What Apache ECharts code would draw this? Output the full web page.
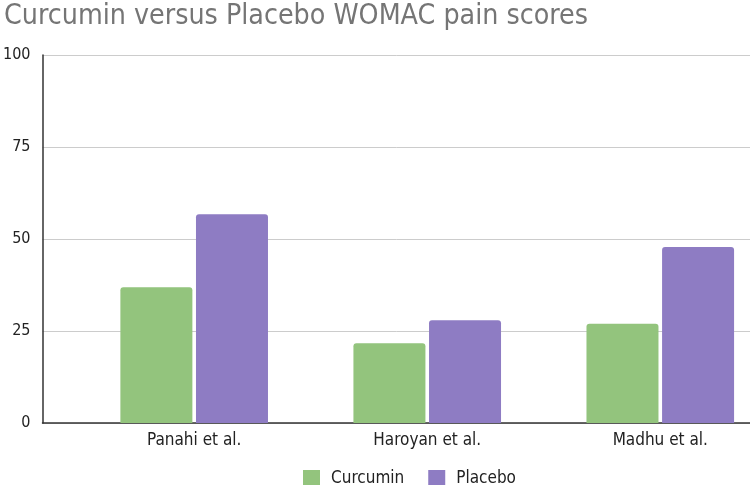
<!DOCTYPE html>
<html><head><meta charset="utf-8">
<script src="https://cdn.jsdelivr.net/npm/echarts@6/dist/echarts.min.js"></script>
<style>html,body{margin:0;padding:0;background:#fff}#c{width:750px;height:485px}</style>
</head><body><div id="c"></div>
<script>
const title = 'Curcumin versus Placebo WOMAC pain scores';
const categories = ['Panahi et al.', 'Haroyan et al.', 'Madhu et al.'];
const curcumin = [36.9, 21.7, 27.0];
const placebo = [56.7, 27.9, 47.8];
const yTicks = [0, 25, 50, 75, 100];

const FONT = '"DejaVu Sans Condensed", "DejaVu Sans", sans-serif';
const catIdx = categories.map((c, i) => i);
const chart = echarts.init(document.getElementById('c'));
chart.setOption({
  animation: false,
  textStyle: { fontFamily: FONT },
  title: { text: title, left: -1, top: -2, textStyle: { fontFamily: FONT, fontSize: 28.3, fontWeight: 'normal', color: '#757575' } },
  legend: {
    top: 465, left: 298, itemWidth: 17, itemHeight: 17, itemGap: 24, icon: 'rect',
    textStyle: { fontFamily: FONT, fontSize: 17, color: '#222', padding: [0, 0, 0, 6] },
    data: ['Curcumin', 'Placebo']
  },
  grid: { left: 37, right: 0, top: 55, bottom: 62 },
  xAxis: {
    type: 'value', min: -0.651, max: 2.385,
    axisLine: { show: true, onZero: false, lineStyle: { color: '#333', width: 1.5 } },
    axisTick: { show: false }, splitLine: { show: false },
    axisLabel: { customValues: catIdx, formatter: v => categories[Math.round(v)] || '',
      fontFamily: FONT, fontSize: 17, color: '#222', margin: 9 }
  },
  yAxis: {
    type: 'value', min: yTicks[0], max: yTicks[yTicks.length - 1], interval: 25,
    axisLine: { show: true, onZero: false, lineStyle: { color: '#333', width: 1.5 } }, axisTick: { show: false },
    axisLabel: { fontFamily: FONT, fontSize: 16, color: '#222', margin: 12 },
    splitLine: { lineStyle: { color: '#cccccc', width: 1 } }
  },
  series: [
    { name: 'Curcumin', type: 'bar', data: curcumin.map((v, i) => [catIdx[i], v]), barWidth: 72, barGap: '5%',
      itemStyle: { color: '#93c47d', borderRadius: [3, 3, 0, 0] } },
    { name: 'Placebo', type: 'bar', data: placebo.map((v, i) => [catIdx[i], v]), barWidth: 72, barGap: '5%',
      itemStyle: { color: '#8e7cc3', borderRadius: [3, 3, 0, 0] } }
  ]
});
</script></body></html>
